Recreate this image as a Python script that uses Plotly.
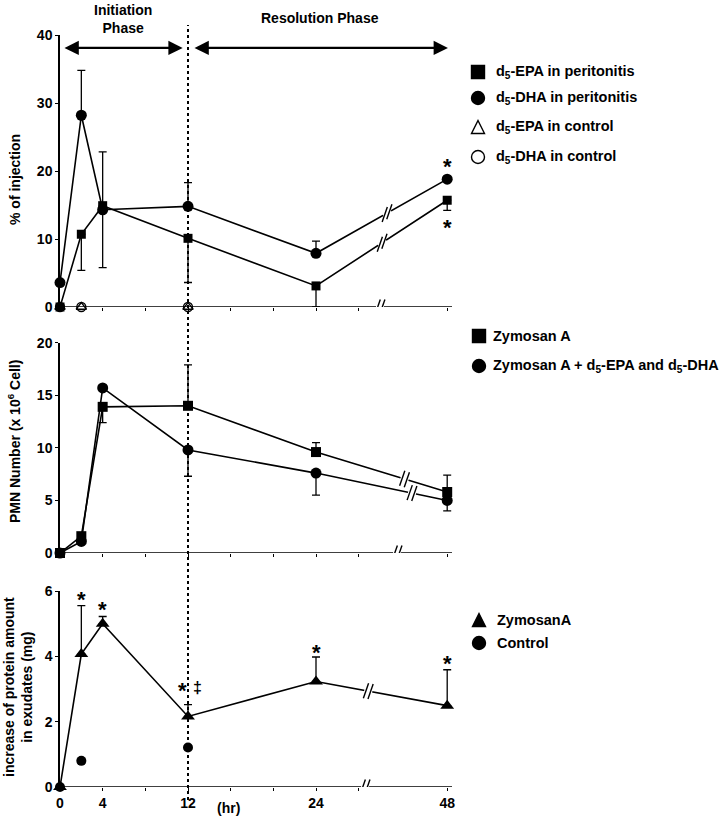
import plotly.graph_objects as go

# ---------------- data ----------------
hours = [0, 2, 4, 12, 24, 48]
ctrl_hours = [0, 2, 12]

# Panel 1: % of injection
epa_perit = [0, 10.7, 14.9, 10.1, 3.1, 15.7]
epa_perit_up = [0, 0, 0, 0, 0, 0]
epa_perit_dn = [0, 5.3, 0, 6.5, 3.1, 1.5]
dha_perit = [3.6, 28.2, 14.3, 14.8, 7.9, 18.8]
dha_perit_up = [0, 6.6, 8.5, 3.5, 1.8, 0]
dha_perit_dn = [0, 0, 8.5, 0, 0, 0]
epa_ctrl = [0, 0, 0]
dha_ctrl = [0, 0, 0]

# Panel 2: PMN number
pmn_zym = [0, 1.6, 13.9, 14.0, 9.6, 5.8]
pmn_zym_up = [0, 0, 0, 3.9, 0.9, 1.6]
pmn_zym_dn = [0, 0, 1.5, 0, 0, 0]
pmn_d5 = [0, 1.1, 15.7, 9.8, 7.6, 5.0]
pmn_d5_up = [0, 0, 0, 0, 0, 0]
pmn_d5_dn = [0, 0, 0, 2.5, 2.1, 1.0]

# Panel 3: protein
prot_zym = [0, 4.07, 5.0, 2.16, 3.23, 2.49]
prot_zym_up = [0, 1.48, 0.22, 0.36, 0.75, 1.1]
prot_ctrl = [0, 0.8, 1.21]

x_label_hours = [0, 4, 12, 24, 48]
x_labels = ['0', '4', '12', '24', '48']
y1_ticks = [0, 10, 20, 30, 40]
y2_ticks = [0, 5, 10, 15, 20]
y3_ticks = [0, 2, 4, 6]

stars1 = [(48, 21.4, '*'), (48, 12.4, '*')]
stars3 = [(2, 5.9, '*'), (4, 5.6, '*'), (12, 3.1, '*'), (24, 4.28, '*'), (48, 3.92, '*')]

# ---------------- broken axis mapping ----------------
X48 = 36.3
XMAX = 36.75


def xpos(h):
    return h if h <= 24 else X48


FONT = "Liberation Sans, Arial, sans-serif"
W, H = 724, 822
L, T = 60, 35
PW = 392
PH = 752
R = W - L - PW
B = H - T - PH
PX_X = PW / XMAX


def px2x(px):
    return (px - L) / PW


def px2y(py):
    return (T + PH - py) / PH


dom1 = [px2y(307), px2y(35)]
dom2 = [px2y(553), px2y(342.7)]
dom3 = [px2y(787), px2y(591)]
ppu = {'y': 272 / 40, 'y2': (553 - 342.7) / 20, 'y3': 196.3 / 6}

fig = go.Figure()
xs = [xpos(h) for h in hours]
cx = [xpos(h) for h in ctrl_hours]


def err(up, dn):
    return dict(type='data', array=up, arrayminus=dn, symmetric=False,
                color='black', thickness=1.3, width=4)


line = dict(color='black', width=1.6)

# panel 1
fig.add_trace(go.Scatter(x=cx, y=epa_ctrl, mode='markers', xaxis='x', yaxis='y', cliponaxis=False,
                         marker=dict(symbol='triangle-up-open', size=9, color='black', line=dict(width=1.3))))
fig.add_trace(go.Scatter(x=cx, y=dha_ctrl, mode='markers', xaxis='x', yaxis='y', cliponaxis=False,
                         marker=dict(symbol='circle-open', size=9, color='black', line=dict(width=1.3))))
fig.add_trace(go.Scatter(x=xs, y=epa_perit, mode='lines+markers', xaxis='x', yaxis='y', cliponaxis=False,
                         line=line, marker=dict(symbol='square', size=9, color='black'),
                         error_y=err(epa_perit_up, epa_perit_dn)))
fig.add_trace(go.Scatter(x=xs, y=dha_perit, mode='lines+markers', xaxis='x', yaxis='y', cliponaxis=False,
                         line=line, marker=dict(symbol='circle', size=11, color='black'),
                         error_y=err(dha_perit_up, dha_perit_dn)))
# panel 2
fig.add_trace(go.Scatter(x=xs, y=pmn_zym, mode='lines+markers', xaxis='x2', yaxis='y2', cliponaxis=False,
                         line=line, marker=dict(symbol='square', size=10, color='black'),
                         error_y=err(pmn_zym_up, pmn_zym_dn)))
fig.add_trace(go.Scatter(x=xs, y=pmn_d5, mode='lines+markers', xaxis='x2', yaxis='y2', cliponaxis=False,
                         line=line, marker=dict(symbol='circle', size=11, color='black'),
                         error_y=err(pmn_d5_up, pmn_d5_dn)))
# panel 3
fig.add_trace(go.Scatter(x=xs, y=prot_zym, mode='lines+markers', xaxis='x3', yaxis='y3', cliponaxis=False,
                         line=line, marker=dict(symbol='triangle-up', size=12, color='black'),
                         error_y=err(prot_zym_up, [0] * 6)))
fig.add_trace(go.Scatter(x=cx, y=prot_ctrl, mode='markers', xaxis='x3', yaxis='y3', cliponaxis=False,
                         marker=dict(symbol='circle', size=10, color='black')))

shapes = []
annotations = []


def add_break(xa, ya, xb, x0, y0, x1, y1, slash_h=7.5, slash_w=2.6, sep=2.3, gap=4.0):
    slope = (y1 - y0) / (x1 - x0)

    def yat(x):
        return y0 + slope * (x - x0)
    g = gap / PX_X
    shapes.append(dict(type='line', xref=xa, yref=ya, x0=xb - g, y0=yat(xb - g), x1=xb + g, y1=yat(xb + g),
                       line=dict(color='white', width=6), layer='above'))
    for s in (-sep, sep):
        xc = xb + s / PX_X
        yc = yat(xc)
        shapes.append(dict(type='line', xref=xa, yref=ya,
                           x0=xc - slash_w / PX_X, y0=yc - slash_h / ppu[ya],
                           x1=xc + slash_w / PX_X, y1=yc + slash_h / ppu[ya],
                           line=dict(color='black', width=1.4), layer='above'))


# x axis lines (drawn as shapes so they can be broken)
for xa, ya in (('x', 'y'), ('x2', 'y2'), ('x3', 'y3')):
    shapes.append(dict(type='line', xref=xa, yref=ya, x0=0, y0=0, x1=XMAX, y1=0,
                       line=dict(color='black', width=1.5), layer='above'))

add_break('x', 'y', 30.0, 0, 0, XMAX, 0)
add_break('x2', 'y2', 31.6, 0, 0, XMAX, 0)
add_break('x3', 'y3', 28.6, 0, 0, XMAX, 0)
add_break('x', 'y', 30.66, 24, dha_perit[4], X48, dha_perit[5])
add_break('x', 'y', 30.2, 24, epa_perit[4], X48, epa_perit[5])
add_break('x2', 'y2', 32.3, 24, pmn_zym[4], X48, pmn_zym[5])
add_break('x2', 'y2', 33.0, 24, pmn_d5[4], X48, pmn_d5[5])
add_break('x3', 'y3', 28.9, 24, prot_zym[4], X48, prot_zym[5])

# dotted vertical line at 12 h
shapes.append(dict(type='line', xref='x', yref='paper', x0=12, x1=12, y0=px2y(800), y1=px2y(25),
                   line=dict(color='black', width=2, dash='dot'), layer='above'))


def bold(size):
    return dict(family=FONT, size=size, color='black', weight='bold')


# phase arrows
for xh, xt in ((11.5, 0.28), (36.37, 12.47)):
    annotations.append(dict(x=xh, y=38.1, ax=xt, ay=38.1, xref='x', yref='y', axref='x', ayref='y',
                            text='', showarrow=True, arrowside='end+start', arrowhead=2, startarrowhead=2,
                            arrowsize=1.3, startarrowsize=1.3, arrowwidth=2.2, arrowcolor='black',
                            standoff=0, startstandoff=0))
annotations.append(dict(x=px2x(123), y=px2y(18.5), xref='paper', yref='paper', text='Initiation<br>Phase',
                        showarrow=False, font=bold(14), xanchor='center', yanchor='middle'))
annotations.append(dict(x=px2x(320), y=px2y(17.5), xref='paper', yref='paper', text='Resolution Phase',
                        showarrow=False, font=bold(14), xanchor='center', yanchor='middle'))

# stars
for h, v, t in stars1:
    annotations.append(dict(x=xpos(h), y=v, xref='x', yref='y', text=t, showarrow=False,
                            font=bold(22), yshift=-5))
for h, v, t in stars3:
    annotations.append(dict(x=xpos(h) - (0.55 if h == 12 else 0), y=v, xref='x3', yref='y3', text=t,
                            showarrow=False, font=bold(22), yshift=-5))
annotations.append(dict(x=12.85, y=3.05, xref='x3', yref='y3', text='‡', showarrow=False, font=bold(16)))

# y axis titles
for txt, cxp, cyp in (('% of injection', 15, 180),
                      ('PMN Number (x 10<sup>6</sup> Cell)', 14, 442),
                      ('increase of protein amount<br>in exudates (mg)', 18, 687)):
    annotations.append(dict(x=px2x(cxp), y=px2y(cyp), xref='paper', yref='paper', text=txt,
                            textangle=-90, showarrow=False, font=bold(14),
                            xanchor='center', yanchor='middle'))
annotations.append(dict(x=px2x(228), y=px2y(808), xref='paper', yref='paper', text='(hr)',
                        showarrow=False, font=bold(14), xanchor='center', yanchor='middle'))


# legends (manual)
def leg_marker(kind, px, py, filled=True, s=6.5):
    col = 'black' if filled else 'white'
    x0, x1 = px2x(px - s), px2x(px + s)
    y0, y1 = px2y(py + s), px2y(py - s)
    ln = dict(color='black', width=1.4)
    if kind == 'square':
        shapes.append(dict(type='rect', xref='paper', yref='paper', x0=x0, x1=x1, y0=y0, y1=y1,
                           fillcolor=col, line=ln))
    elif kind == 'circle':
        shapes.append(dict(type='circle', xref='paper', yref='paper', x0=x0, x1=x1, y0=y0, y1=y1,
                           fillcolor=col, line=ln))
    else:
        path = 'M {} {} L {} {} L {} {} Z'.format(px2x(px - s), px2y(py + s), px2x(px + s), px2y(py + s),
                                                  px2x(px), px2y(py - s))
        shapes.append(dict(type='path', xref='paper', yref='paper', path=path, fillcolor=col, line=ln))


def leg_text(txt, px, py):
    annotations.append(dict(x=px2x(px), y=px2y(py), xref='paper', yref='paper', text=txt,
                            showarrow=False, xanchor='left', yanchor='middle', font=bold(14.5)))


leg1 = [('square', True, 'd<sub>5</sub>-EPA in peritonitis', 72),
        ('circle', True, 'd<sub>5</sub>-DHA in peritonitis', 98),
        ('triangle', False, 'd<sub>5</sub>-EPA in control', 127),
        ('circle', False, 'd<sub>5</sub>-DHA in control', 157)]
for k, f, t, py in leg1:
    leg_marker(k, 478, py, f)
    leg_text(t, 494, py)
leg2 = [('square', True, 'Zymosan A', 336),
        ('circle', True, 'Zymosan A + d<sub>5</sub>-EPA and d<sub>5</sub>-DHA', 366)]
for k, f, t, py in leg2:
    leg_marker(k, 479, py, f)
    leg_text(t, 491, py)
leg3 = [('triangle', True, 'ZymosanA', 620), ('circle', True, 'Control', 643)]
for k, f, t, py in leg3:
    leg_marker(k, 479, py, f)
    leg_text(t, 495, py)

tickpos = [0, 4, 8, 12, 16, 20, 24, 28, X48]
tickpos_lab = [xpos(h) for h in x_label_hours]
ticktext = [x_labels[tickpos_lab.index(t)] if t in tickpos_lab else '' for t in tickpos]


def xax(anchor, labels):
    return dict(range=[0, XMAX], anchor=anchor, showline=False, zeroline=False, showgrid=False,
                tickvals=tickpos, ticktext=ticktext if labels else [''] * len(tickpos),
                ticks='outside', ticklen=3, tickcolor='black', tickwidth=1,
                tickfont=bold(14), automargin=False)


def yax(rng, dom, anchor, tv):
    return dict(range=rng, domain=dom, anchor=anchor, showline=True, linecolor='black', linewidth=1.5,
                zeroline=False, showgrid=False, ticks='outside', ticklen=3, tickcolor='black',
                tickvals=tv, ticktext=[str(v) for v in tv], tickfont=bold(14), automargin=False)


fig.update_layout(
    width=W, height=H, margin=dict(l=L, r=R, t=T, b=B, autoexpand=False),
    paper_bgcolor='white', plot_bgcolor='white', showlegend=False,
    xaxis=xax('y', False), xaxis2=xax('y2', False), xaxis3=xax('y3', True),
    yaxis=yax([0, 40], dom1, 'x', y1_ticks),
    yaxis2=yax([0, 20], dom2, 'x2', y2_ticks),
    yaxis3=yax([0, 6], dom3, 'x3', y3_ticks),
    shapes=shapes, annotations=annotations,
)

fig.write_html("out.html", config={'displayModeBar': False},
               post_script="document.body.style.margin='0';document.body.style.overflow='hidden';")
